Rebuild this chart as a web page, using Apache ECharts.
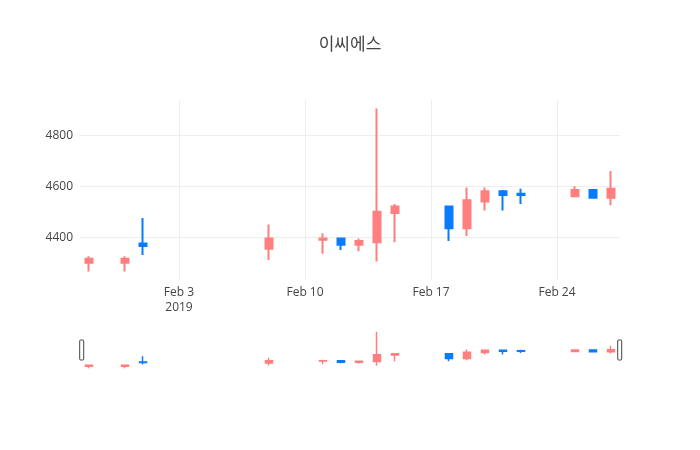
<!DOCTYPE html>
<html><head><meta charset="utf-8">
<script src="https://cdn.jsdelivr.net/npm/echarts@6/dist/echarts.min.js"></script>
<style>html,body{margin:0;padding:0;background:#fff}#c{width:700px;height:450px}</style>
</head><body><div id="c"></div>
<script>
const chartTitle = '이씨에스';
const axisDays = ['2019-01-29','2019-01-30','2019-01-31','2019-02-01','2019-02-02','2019-02-03','2019-02-04','2019-02-05','2019-02-06','2019-02-07','2019-02-08','2019-02-09','2019-02-10','2019-02-11','2019-02-12','2019-02-13','2019-02-14','2019-02-15','2019-02-16','2019-02-17','2019-02-18','2019-02-19','2019-02-20','2019-02-21','2019-02-22','2019-02-23','2019-02-24','2019-02-25','2019-02-26','2019-02-27'];
const tradeDates = ['2019-01-29','2019-01-31','2019-02-01','2019-02-08','2019-02-11','2019-02-12','2019-02-13','2019-02-14','2019-02-15','2019-02-18','2019-02-19','2019-02-20','2019-02-21','2019-02-22','2019-02-25','2019-02-26','2019-02-27'];
const openV  = [4300,4300,4375,4355,4390,4395,4370,4380,4495,4520,4435,4540,4580,4570,4560,4585,4555];
const closeV = [4315,4315,4365,4395,4395,4370,4385,4500,4520,4435,4545,4580,4565,4565,4585,4555,4590];
const lowV   = [4265,4265,4330,4310,4335,4350,4345,4305,4380,4385,4405,4505,4505,4530,4560,4555,4525];
const highV  = [4325,4325,4475,4450,4415,4395,4395,4905,4530,4520,4595,4595,4585,4590,4600,4585,4660];
const tickDays = ['2019-02-03','2019-02-10','2019-02-17','2019-02-24'];
const tickLabels = ['Feb 3\n2019','Feb 10','Feb 17','Feb 24'];
const yMin = 4232, yMax = 4938;

const upColor = '#ff7f7f', downColor = '#0a7bff';
const candleData = axisDays.map(d => {
  const i = tradeDates.indexOf(d);
  return i < 0 ? ['-','-','-','-'] : [openV[i], closeV[i], lowV[i], highV[i]];
});
const isTick = (idx, v) => tickDays.indexOf(v) >= 0;
const font = "'Open Sans', 'Noto Sans CJK KR', sans-serif";

const chart = echarts.init(document.getElementById('c'));
chart.setOption({
  animation: false,
  backgroundColor: '#fff',
  title: { text: chartTitle, left: 'center', top: 32,
    textStyle: { fontSize: 17, color: '#444', fontWeight: 'normal', fontFamily: font } },
  grid: [
    { left: 80, right: 80, top: 100, height: 180 },
    { left: 80, right: 80, top: 330, height: 40 }
  ],
  xAxis: [
    { type: 'category', data: axisDays, boundaryGap: true, gridIndex: 0,
      axisLine: { show: false }, axisTick: { show: false },
      axisLabel: { interval: isTick, color: '#444', fontSize: 12, fontFamily: font, margin: 5, lineHeight: 15,
        formatter: v => tickLabels[tickDays.indexOf(v)] || '' },
      splitLine: { show: true, interval: isTick, alignWithLabel: true, lineStyle: { color: '#eee', width: 1 } } },
    { type: 'category', data: axisDays, boundaryGap: true, gridIndex: 1, show: false }
  ],
  yAxis: [
    { type: 'value', min: yMin, max: yMax, splitNumber: 3, gridIndex: 0,
      axisLine: { show: false }, axisTick: { show: false },
      axisLabel: { formatter: v => String(v), color: '#444', fontSize: 12, fontFamily: font, margin: 7,
        showMinLabel: false, showMaxLabel: false },
      splitLine: { show: true, showMinLine: false, showMaxLine: false, lineStyle: { color: '#eee', width: 1 } } },
    { type: 'value', min: yMin, max: yMax, gridIndex: 1, show: false }
  ],
  dataZoom: [{
    type: 'slider', xAxisIndex: 0, filterMode: 'none', start: 0, end: 100,
    left: 80, right: 80, top: 340, height: 20,
    showDetail: false, showDataShadow: false, brushSelect: false, moveHandleSize: 0,
    backgroundColor: 'rgba(0,0,0,0)', fillerColor: 'rgba(0,0,0,0)', borderColor: 'rgba(0,0,0,0)',
    handleIcon: 'path://M1,0 h2 a1,1 0 0 1 1,1 v18 a1,1 0 0 1 -1,1 h-2 a1,1 0 0 1 -1,-1 v-18 a1,1 0 0 1 1,-1 z',
    handleSize: '100%',
    handleStyle: { color: '#fff', borderColor: '#444', borderWidth: 1 },
    emphasis: { handleStyle: { color: '#fff', borderColor: '#444', borderWidth: 1 } },
    dataBackground: { lineStyle: { opacity: 0 }, areaStyle: { opacity: 0 } }
  }],
  series: [
    { type: 'candlestick', xAxisIndex: 0, yAxisIndex: 0, data: candleData, barWidth: 8,
      itemStyle: { color: upColor, color0: downColor, borderColor: upColor, borderColor0: downColor, borderWidth: 2 } },
    { type: 'candlestick', xAxisIndex: 1, yAxisIndex: 1, data: candleData, barWidth: 8, silent: true,
      itemStyle: { color: upColor, color0: downColor, borderColor: upColor, borderColor0: downColor, borderWidth: 1.5 } }
  ]
});
</script></body></html>
